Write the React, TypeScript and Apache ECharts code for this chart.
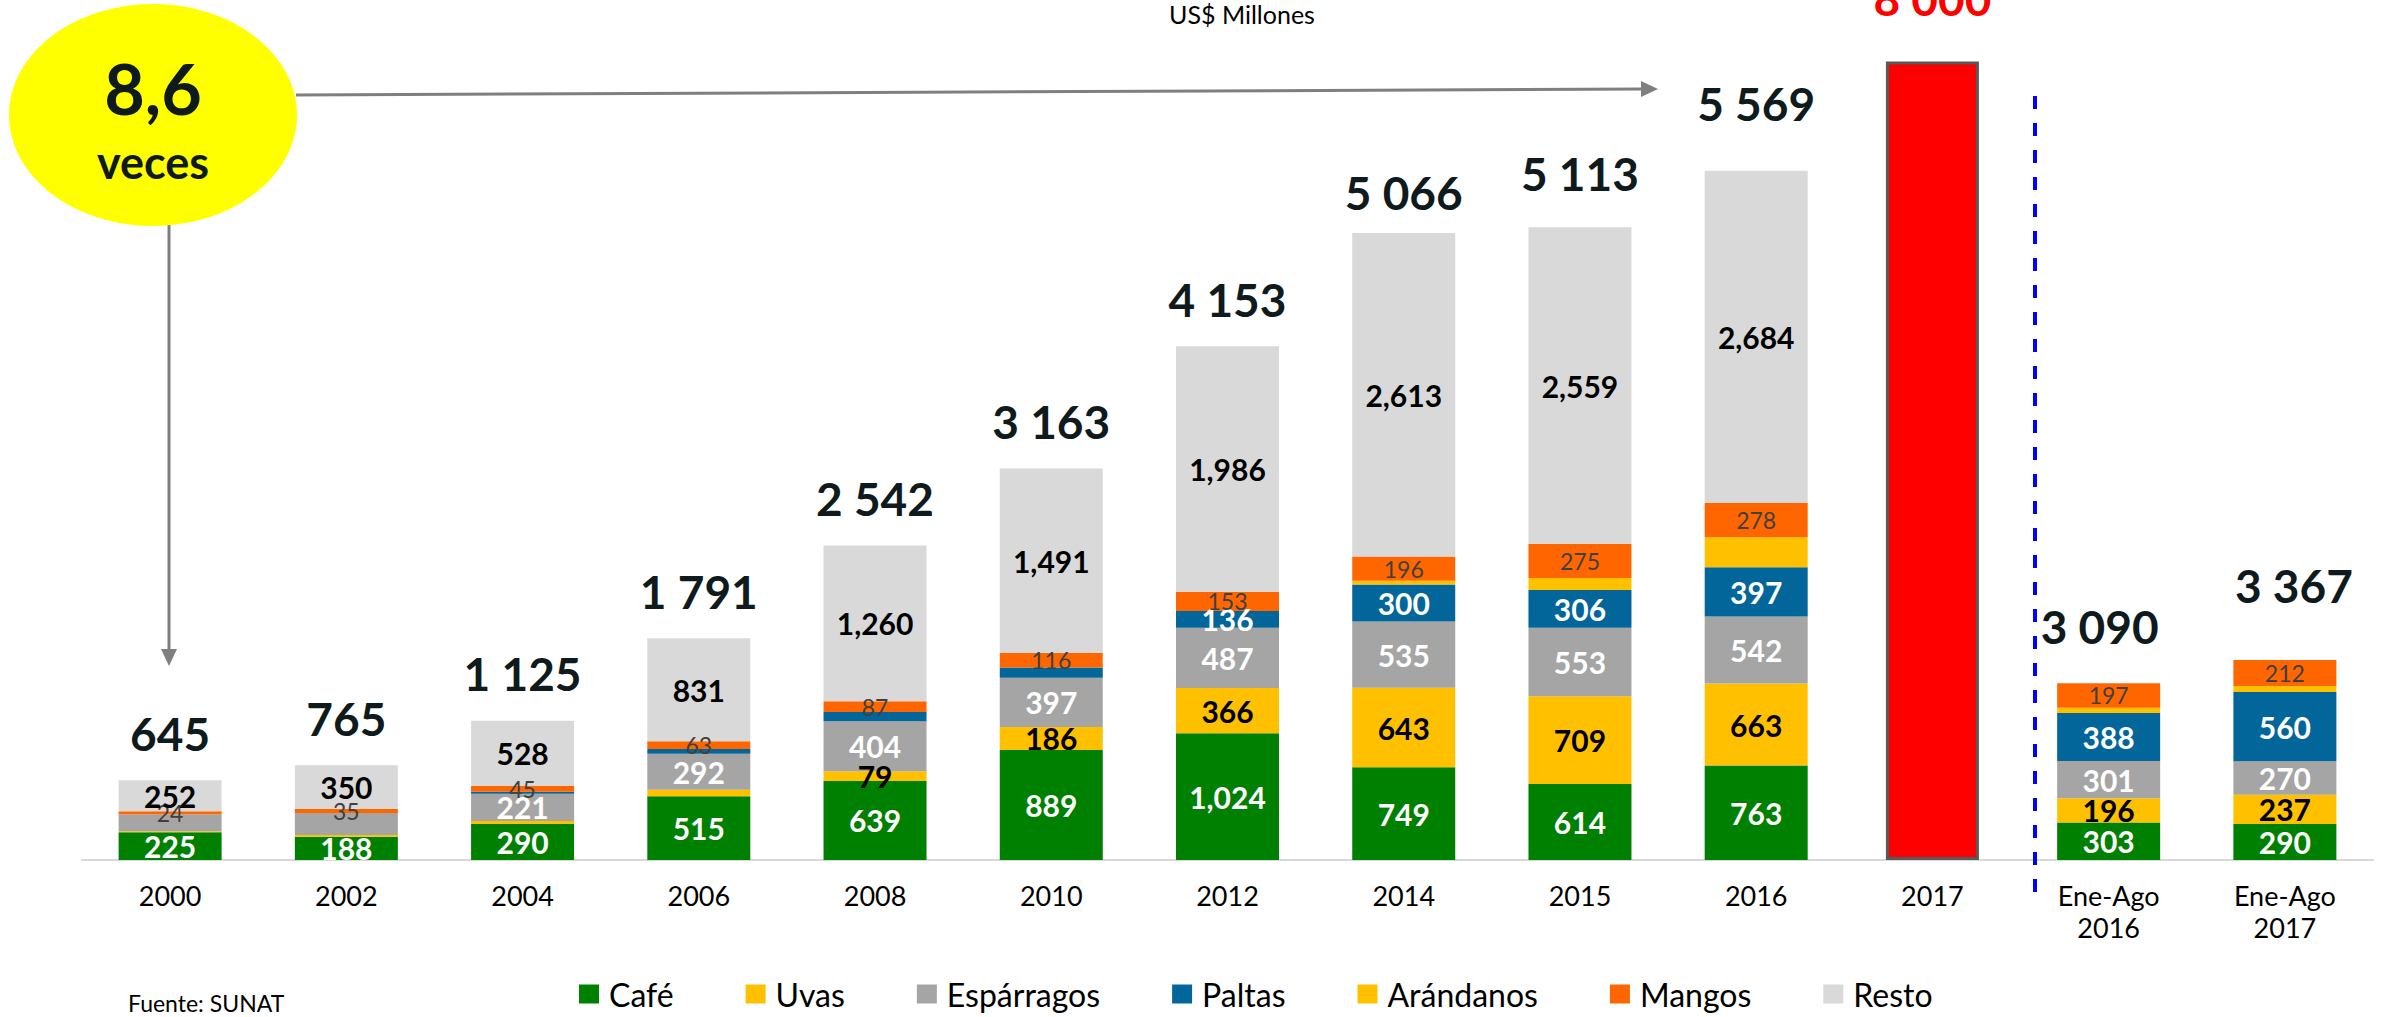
import React, { useEffect, useRef } from 'react';
import * as echarts from 'echarts';

const categories = ['2000', '2002', '2004', '2006', '2008', '2010', '2012', '2014', '2015', '2016', '2017', 'Ene-Ago\n2016', 'Ene-Ago\n2017'];
const cafe = [225, 188, 290, 515, 639, 889, 1024, 749, 614, 763, null, 303, 290];
const uvas = [8, 14, 25, 52, 79, 186, 366, 643, 709, 663, null, 196, 237];
const esparragos = [136, 178, 221, 292, 404, 397, 487, 535, 553, 542, null, 301, 270];
const paltas = [0, 0, 16, 38, 73, 84, 136, 300, 306, 397, null, 388, 560];
const arandanos = [0, 0, 0, 0, 0, 0, 0, 30, 97, 242, null, 43, 48];
const mangos = [24, 35, 45, 63, 87, 116, 153, 196, 275, 278, null, 197, 212];
const resto = [252, 350, 528, 831, 1260, 1491, 1986, 2613, 2559, 2684, null, null, null];
const totals = [645, 765, 1125, 1791, 2542, 3163, 4153, 5066, 5113, 5569, null, 3090, 3367];
const forecast2017 = [null, null, null, null, null, null, null, null, null, null, 8000, null, null];

const FONT = 'Lato';

function fmtThousands(v: number, sep: string): string {
  if (v >= 1000) {
    return Math.floor(v / 1000) + sep + String(v % 1000).padStart(3, '0');
  }
  return String(v);
}

export default function App() {
  const ref = useRef<HTMLDivElement>(null);

  useEffect(() => {
    if (!ref.current) return;
    const chart = echarts.init(ref.current, null, { renderer: 'svg', width: 2382, height: 1017 });

    const segDefs = [
      { name: 'Café', data: cafe, color: '#008000', labelColor: '#FFFFFF', min: 1, size: 30, weight: 'bold' },
      { name: 'Uvas', data: uvas, color: '#FFC000', labelColor: '#000000', min: 70, size: 30, weight: 'bold' },
      { name: 'Espárragos', data: esparragos, color: '#A5A5A5', labelColor: '#FFFFFF', min: 200, size: 30, weight: 'bold' },
      { name: 'Paltas', data: paltas, color: '#03669A', labelColor: '#FFFFFF', min: 100, size: 30, weight: 'bold' },
      { name: 'Arándanos', data: arandanos, color: '#FFC000', labelColor: '#000000', min: Infinity, size: 30, weight: 'bold' },
      { name: 'Mangos', data: mangos, color: '#FF6600', labelColor: '#404040', min: 1, size: 23, weight: 'normal' },
      { name: 'Resto', data: resto, color: '#D9D9D9', labelColor: '#000000', min: 1, size: 30, weight: 'bold' },
    ];

    const segSeries = segDefs.map((d) => ({
      name: d.name,
      type: 'bar',
      stack: 'total',
      xAxisIndex: 0,
      yAxisIndex: 0,
      barWidth: 103,
      data: d.data,
      itemStyle: { color: d.color },
      label: {
        show: true,
        position: 'inside',
        fontFamily: FONT,
        fontSize: d.size,
        fontWeight: d.weight,
        color: d.labelColor,
        formatter: (p: any) => (p.value != null && p.value >= d.min ? fmtThousands(p.value, ',') : ''),
      },
    }));

    const totalDistance = (i: number) => {
      if (i === 7) return 18;
      if (i === 8) return 31;
      if (i === 9) return 44;
      if (i === 11) return 34;
      if (i === 12) return 51;
      return 24;
    };
    const totalOffset = (i: number) => {
      if (i === 11) return [-9, 0];
      if (i === 12) return [9, 0];
      return [0, 0];
    };

    const totalSeries = {
      name: 'Total',
      type: 'bar',
      stack: 'total',
      xAxisIndex: 0,
      yAxisIndex: 0,
      barWidth: 103,
      itemStyle: { color: 'rgba(0,0,0,0)' },
      data: totals.map((t, i) =>
        t == null
          ? null
          : { value: 0, label: { distance: totalDistance(i), offset: totalOffset(i) } }
      ),
      label: {
        show: true,
        position: 'top',
        fontFamily: FONT,
        fontSize: 46,
        fontWeight: 'bold',
        color: '#0E1A1C',
        formatter: (p: any) => fmtThousands(totals[p.dataIndex] as number, ' '),
      },
    };

    const forecastSeries = {
      name: '2017',
      type: 'bar',
      xAxisIndex: 1,
      yAxisIndex: 0,
      barWidth: 93,
      clip: true,
      data: forecast2017,
      itemStyle: { color: '#FF0000', borderColor: '#595959', borderWidth: 3 },
      label: {
        show: true,
        position: 'top',
        distance: 40,
        fontFamily: FONT,
        fontSize: 46,
        fontWeight: 'bold',
        color: '#FF0000',
        formatter: (p: any) => fmtThousands(p.value, ' '),
      },
    };

    const option: any = {
      animation: false,
      backgroundColor: '#FFFFFF',
      textStyle: { fontFamily: FONT },
      grid: { left: 82, right: 9, top: 63, bottom: 157, containLabel: false },
      xAxis: [
        {
          type: 'category',
          data: categories,
          axisLine: { lineStyle: { color: '#D9D9D9', width: 2 } },
          axisTick: { show: false },
          axisLabel: {
            interval: 0,
            fontFamily: FONT,
            fontSize: 27,
            lineHeight: 32,
            color: '#000000',
            margin: 19,
          },
        },
        { type: 'category', data: categories, show: false },
      ],
      yAxis: [{ type: 'value', min: 0, max: 6440, show: false }],
      legend: {
        data: segDefs.map((d) => d.name),
        left: 579,
        top: 978,
        icon: 'rect',
        itemWidth: 20,
        itemHeight: 19,
        itemGap: 72,
        selectedMode: false,
        padding: 0,
        textStyle: { fontFamily: FONT, fontSize: 32, color: '#000000', padding: [0, 0, 0, 5] },
      },
      series: [...segSeries, totalSeries, forecastSeries],
      graphic: [
        { type: 'ellipse', shape: { cx: 153, cy: 115, rx: 144, ry: 111 }, style: { fill: '#FFFF00' }, z: 10 },
        {
          type: 'text', x: 153, y: 88, z: 11,
          style: { text: '8,6', fill: '#0E1A1C', font: 'bold 70px Lato', align: 'center', verticalAlign: 'middle' },
        },
        {
          type: 'text', x: 153, y: 162, z: 11,
          style: { text: 'veces', fill: '#0E1A1C', font: 'bold 45px Lato', align: 'center', verticalAlign: 'middle' },
        },
        {
          type: 'line', z: 9,
          shape: { x1: 296, y1: 95, x2: 1642, y2: 89 },
          style: { stroke: '#7F7F7F', lineWidth: 3 },
        },
        {
          type: 'polygon', z: 9,
          shape: { points: [[1641, 81], [1658, 89], [1641, 97]] },
          style: { fill: '#7F7F7F' },
        },
        {
          type: 'line', z: 9,
          shape: { x1: 169, y1: 225, x2: 169, y2: 650 },
          style: { stroke: '#7F7F7F', lineWidth: 3 },
        },
        {
          type: 'polygon', z: 9,
          shape: { points: [[161, 649], [177, 649], [169, 666]] },
          style: { fill: '#7F7F7F' },
        },
        {
          type: 'line', z: 9,
          shape: { x1: 2035, y1: 96, x2: 2035, y2: 897 },
          style: { stroke: '#0000FF', lineWidth: 4, lineDash: [13, 14] },
        },
        {
          type: 'text', x: 1242, y: 14, z: 11,
          style: { text: 'US$ Millones', fill: '#000000', font: '25px Lato', align: 'center', verticalAlign: 'middle' },
        },
        {
          type: 'text', x: 128, y: 1003, z: 11,
          style: { text: 'Fuente: SUNAT', fill: '#000000', font: '23px Lato', align: 'left', verticalAlign: 'middle' },
        },
      ],
    };

    chart.setOption(option);
    return () => chart.dispose();
  }, []);

  return (
    <div
      ref={ref}
      style={{ position: 'fixed', left: 0, top: 0, width: 2382, height: 1017, background: '#FFFFFF' }}
    />
  );
}
